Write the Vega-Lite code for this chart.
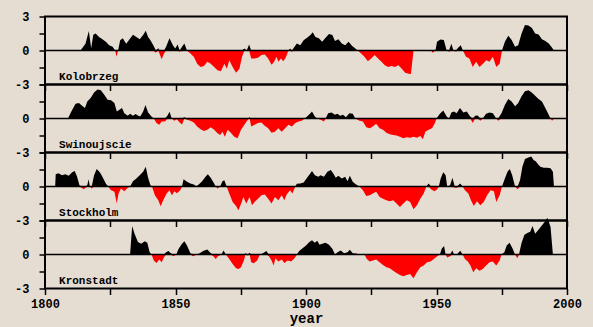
{
  "$schema": "https://vega.github.io/schema/vega-lite/v6.json",
  "background": "#e5ddd2",
  "padding": {"left": 13, "top": 9.5, "right": 9.6, "bottom": 1},
  "bounds": "flush",
  "spacing": 0,
  "config": {
    "view": {"stroke": "black", "strokeWidth": 2},
    "axis": {"domain": false, "grid": false, "ticks": true, "tickColor": "black", "tickWidth": 1.5, "labelFont": "Liberation Mono", "labelFontWeight": "bold", "labelFontSize": 12, "labelColor": "black", "titleFont": "Liberation Mono", "titleFontWeight": "bold", "titleFontSize": 14, "titleColor": "black", "labelFlush": false, "labelOverlap": false},
    "axisLeft": {"tickSize": 6, "labelPadding": 10, "labelAlign": "right", "labelBaseline": "middle"},
    "axisBottom": {"tickSize": 6}
  },
  "datasets": {
    "Kolobrzeg": [
      {"year":1813.6,"anomaly":0},{"year":1815.5,"anomaly":0.6},{"year":1816.8,"anomaly":1.72},{"year":1817.7,"anomaly":0.2},{"year":1818.5,"anomaly":1.4},{"year":1819.4,"anomaly":1.5},{"year":1820.7,"anomaly":1.2},{"year":1822.0,"anomaly":1.0},{"year":1823.3,"anomaly":0.77},{"year":1824.6,"anomaly":0.47},{"year":1825.9,"anomaly":0.33},{"year":1826.9,"anomaly":0},{"year":1827.4,"anomaly":-0.56},{"year":1828.0,"anomaly":0},{"year":1828.8,"anomaly":0.9},{"year":1829.8,"anomaly":1.07},{"year":1831.1,"anomaly":0.6},{"year":1832.4,"anomaly":1.0},{"year":1833.7,"anomaly":1.4},{"year":1835.0,"anomaly":1.2},{"year":1836.3,"anomaly":1.0},{"year":1837.6,"anomaly":1.37},{"year":1838.6,"anomaly":1.75},{"year":1839.5,"anomaly":1.2},{"year":1840.4,"anomaly":0.9},{"year":1841.5,"anomaly":0.47},{"year":1842.5,"anomaly":-0.2},{"year":1843.4,"anomaly":0.2},{"year":1844.0,"anomaly":-0.35},{"year":1844.7,"anomaly":-0.77},{"year":1845.6,"anomaly":-0.27},{"year":1846.4,"anomaly":0.33},{"year":1847.7,"anomaly":1.07},{"year":1849.0,"anomaly":0.47},{"year":1849.9,"anomaly":0.18},{"year":1850.8,"anomaly":0.53},{"year":1851.6,"anomaly":-0.1},{"year":1852.5,"anomaly":0.33},{"year":1853.4,"anomaly":0.62},{"year":1854.4,"anomaly":0},{"year":1855.7,"anomaly":-0.27},{"year":1857.0,"anomaly":-0.56},{"year":1858.3,"anomaly":-1.16},{"year":1859.6,"anomaly":-1.45},{"year":1860.9,"anomaly":-1.36},{"year":1862.2,"anomaly":-1.0},{"year":1863.5,"anomaly":-1.16},{"year":1864.8,"anomaly":-1.45},{"year":1866.1,"anomaly":-1.75},{"year":1867.4,"anomaly":-1.84},{"year":1868.7,"anomaly":-1.16},{"year":1869.7,"anomaly":-1.6},{"year":1870.6,"anomaly":-0.86},{"year":1871.9,"anomaly":-1.45},{"year":1873.2,"anomaly":-1.96},{"year":1874.5,"anomaly":-1.6},{"year":1875.5,"anomaly":-0.56},{"year":1876.4,"anomaly":0.18},{"year":1877.3,"anomaly":-0.06},{"year":1878.2,"anomaly":0.53},{"year":1879.0,"anomaly":-0.7},{"year":1880.3,"anomaly":-0.7},{"year":1881.6,"anomaly":-0.65},{"year":1882.9,"anomaly":-0.4},{"year":1884.2,"anomaly":-0.35},{"year":1885.5,"anomaly":-0.7},{"year":1886.8,"anomaly":-1.25},{"year":1887.8,"anomaly":-1.0},{"year":1888.7,"anomaly":-0.56},{"year":1889.4,"anomaly":-1.0},{"year":1890.4,"anomaly":-0.7},{"year":1891.3,"anomaly":-0.95},{"year":1892.2,"anomaly":-0.65},{"year":1893.3,"anomaly":0},{"year":1893.9,"anomaly":0.18},{"year":1894.6,"anomaly":-0.1},{"year":1895.6,"anomaly":0.33},{"year":1896.5,"anomaly":0.62},{"year":1897.8,"anomaly":0.47},{"year":1899.1,"anomaly":0.9},{"year":1900.4,"anomaly":1.13},{"year":1901.7,"anomaly":1.37},{"year":1902.6,"anomaly":1.6},{"year":1903.6,"anomaly":1.2},{"year":1904.9,"anomaly":1.07},{"year":1906.2,"anomaly":0.77},{"year":1907.5,"anomaly":1.13},{"year":1908.8,"anomaly":1.45},{"year":1910.1,"anomaly":1.37},{"year":1911.1,"anomaly":0.83},{"year":1912.4,"anomaly":1.0},{"year":1913.7,"anomaly":0.62},{"year":1915.0,"anomaly":0.47},{"year":1916.3,"anomaly":0.77},{"year":1917.6,"anomaly":0.42},{"year":1918.9,"anomaly":0.18},{"year":1919.8,"anomaly":0},{"year":1921.1,"anomaly":-0.27},{"year":1922.4,"anomaly":-0.56},{"year":1923.7,"anomaly":-0.95},{"year":1925.0,"anomaly":-0.7},{"year":1926.3,"anomaly":-0.4},{"year":1927.6,"anomaly":-0.7},{"year":1928.9,"anomaly":-1.0},{"year":1930.2,"anomaly":-1.3},{"year":1931.5,"anomaly":-1.45},{"year":1932.8,"anomaly":-1.36},{"year":1934.1,"anomaly":-1.45},{"year":1935.4,"anomaly":-1.3},{"year":1936.7,"anomaly":-1.6},{"year":1938.0,"anomaly":-1.96},{"year":1939.3,"anomaly":-2.05},{"year":1940.2,"anomaly":-2.08},{"year":1941.2,"anomaly":0},{"year":1948.0,"anomaly":0},{"year":1948.5,"anomaly":-0.2},{"year":1949.6,"anomaly":0},{"year":1950.2,"anomaly":0.77},{"year":1951.5,"anomaly":0.98},{"year":1952.8,"anomaly":0.92},{"year":1953.9,"anomaly":0},{"year":1954.8,"anomaly":-0.1},{"year":1955.7,"anomaly":0.6},{"year":1956.5,"anomaly":0},{"year":1957.4,"anomaly":-0.1},{"year":1958.3,"anomaly":0.24},{"year":1959.3,"anomaly":0.47},{"year":1960.1,"anomaly":0},{"year":1961.3,"anomaly":-0.56},{"year":1962.6,"anomaly":-0.7},{"year":1963.9,"anomaly":-1.45},{"year":1965.2,"anomaly":-1.0},{"year":1966.5,"anomaly":-1.45},{"year":1967.8,"anomaly":-1.16},{"year":1969.1,"anomaly":-0.86},{"year":1970.3,"anomaly":-1.0},{"year":1971.6,"anomaly":-0.56},{"year":1972.9,"anomaly":-1.45},{"year":1974.2,"anomaly":-1.16},{"year":1975.1,"anomaly":0},{"year":1976.2,"anomaly":0.77},{"year":1977.5,"anomaly":1.3},{"year":1978.8,"anomaly":0.92},{"year":1980.1,"anomaly":0.33},{"year":1981.3,"anomaly":0.47},{"year":1982.6,"anomaly":1.5},{"year":1983.9,"anomaly":2.25},{"year":1985.2,"anomaly":2.2},{"year":1986.5,"anomaly":2.0},{"year":1987.8,"anomaly":1.5},{"year":1989.1,"anomaly":1.42},{"year":1990.4,"anomaly":1.0},{"year":1991.7,"anomaly":0.83},{"year":1993.0,"anomaly":0.62},{"year":1994.3,"anomaly":0.24},{"year":1995.0,"anomaly":0}
    ],
    "Swinoujscie": [
      {"year":1808.8,"anomaly":0},{"year":1810.1,"anomaly":0.62},{"year":1811.7,"anomaly":1.3},{"year":1813.0,"anomaly":1.37},{"year":1814.2,"anomaly":1.13},{"year":1815.3,"anomaly":0.92},{"year":1816.2,"anomaly":1.5},{"year":1817.5,"anomaly":1.8},{"year":1818.8,"anomaly":2.3},{"year":1820.1,"anomaly":2.55},{"year":1821.4,"anomaly":2.5},{"year":1822.7,"anomaly":2.1},{"year":1824.0,"anomaly":1.66},{"year":1825.3,"anomaly":1.6},{"year":1826.6,"anomaly":1.37},{"year":1827.5,"anomaly":0.62},{"year":1828.5,"anomaly":0.77},{"year":1829.5,"anomaly":0.92},{"year":1830.4,"anomaly":0.47},{"year":1831.7,"anomaly":0.24},{"year":1832.6,"anomaly":0.42},{"year":1833.7,"anomaly":0.24},{"year":1834.7,"anomaly":0.39},{"year":1835.6,"anomaly":0.27},{"year":1836.5,"anomaly":0.18},{"year":1837.6,"anomaly":0.62},{"year":1838.5,"anomaly":1.2},{"year":1839.5,"anomaly":0.53},{"year":1840.8,"anomaly":0.18},{"year":1841.7,"anomaly":0},{"year":1842.7,"anomaly":-0.4},{"year":1843.8,"anomaly":-0.56},{"year":1844.7,"anomaly":-0.27},{"year":1846.0,"anomaly":-0.27},{"year":1846.9,"anomaly":0.24},{"year":1847.7,"anomaly":0.6},{"year":1848.6,"anomaly":0},{"year":1849.5,"anomaly":-0.2},{"year":1850.5,"anomaly":-0.06},{"year":1851.6,"anomaly":-0.35},{"year":1852.5,"anomaly":-0.53},{"year":1853.4,"anomaly":0.1},{"year":1854.4,"anomaly":-0.12},{"year":1855.7,"anomaly":-0.2},{"year":1857.0,"anomaly":-0.35},{"year":1858.3,"anomaly":-0.7},{"year":1859.6,"anomaly":-0.95},{"year":1860.9,"anomaly":-1.1},{"year":1862.2,"anomaly":-1.0},{"year":1863.5,"anomaly":-0.77},{"year":1864.8,"anomaly":-1.0},{"year":1866.1,"anomaly":-1.3},{"year":1867.1,"anomaly":-1.45},{"year":1868.0,"anomaly":-1.16},{"year":1868.9,"anomaly":-1.6},{"year":1870.0,"anomaly":-1.0},{"year":1871.2,"anomaly":-1.25},{"year":1872.5,"anomaly":-1.6},{"year":1873.8,"anomaly":-1.75},{"year":1875.1,"anomaly":-1.0},{"year":1876.4,"anomaly":-0.56},{"year":1877.7,"anomaly":-0.12},{"year":1878.4,"anomaly":0.12},{"year":1879.0,"anomaly":-0.7},{"year":1880.3,"anomaly":-0.56},{"year":1881.6,"anomaly":-0.4},{"year":1882.9,"anomaly":-0.35},{"year":1884.2,"anomaly":-0.65},{"year":1885.5,"anomaly":-0.86},{"year":1886.8,"anomaly":-1.25},{"year":1888.1,"anomaly":-1.16},{"year":1889.4,"anomaly":-0.86},{"year":1890.7,"anomaly":-1.16},{"year":1892.0,"anomaly":-0.86},{"year":1893.3,"anomaly":-0.56},{"year":1894.6,"anomaly":-0.7},{"year":1895.9,"anomaly":-0.4},{"year":1897.2,"anomaly":-0.27},{"year":1898.4,"anomaly":-0.2},{"year":1899.5,"anomaly":0},{"year":1900.4,"anomaly":0.18},{"year":1901.7,"anomaly":0.47},{"year":1902.3,"anomaly":0.62},{"year":1903.4,"anomaly":0.18},{"year":1904.3,"anomaly":0},{"year":1905.6,"anomaly":-0.12},{"year":1906.9,"anomaly":-0.27},{"year":1907.5,"anomaly":0},{"year":1908.5,"anomaly":0.47},{"year":1909.8,"anomaly":0.53},{"year":1911.1,"anomaly":0.33},{"year":1912.0,"anomaly":0.42},{"year":1913.1,"anomaly":0.24},{"year":1914.2,"anomaly":0.33},{"year":1915.3,"anomaly":0.12},{"year":1916.6,"anomaly":0.47},{"year":1917.9,"anomaly":0.42},{"year":1918.9,"anomaly":0},{"year":1920.5,"anomaly":-0.2},{"year":1921.8,"anomaly":-0.27},{"year":1923.1,"anomaly":-0.77},{"year":1924.4,"anomaly":-0.86},{"year":1925.6,"anomaly":-0.7},{"year":1926.9,"anomaly":-0.47},{"year":1928.2,"anomaly":-0.86},{"year":1929.5,"anomaly":-1.0},{"year":1930.8,"anomaly":-1.25},{"year":1932.1,"anomaly":-1.4},{"year":1933.4,"anomaly":-1.45},{"year":1934.7,"anomaly":-1.5},{"year":1936.0,"anomaly":-1.6},{"year":1937.3,"anomaly":-1.75},{"year":1938.6,"anomaly":-1.66},{"year":1939.9,"anomaly":-1.7},{"year":1941.2,"anomaly":-1.6},{"year":1942.5,"anomaly":-1.7},{"year":1943.8,"anomaly":-1.55},{"year":1944.8,"anomaly":-1.84},{"year":1945.7,"anomaly":-1.16},{"year":1947.0,"anomaly":-1.0},{"year":1948.3,"anomaly":-0.86},{"year":1949.4,"anomaly":-0.4},{"year":1950.0,"anomaly":0},{"year":1951.3,"anomaly":0.42},{"year":1952.6,"anomaly":0.7},{"year":1953.9,"anomaly":0.18},{"year":1954.8,"anomaly":0},{"year":1955.7,"anomaly":0.53},{"year":1956.7,"anomaly":0.62},{"year":1957.7,"anomaly":0.47},{"year":1959.0,"anomaly":0.92},{"year":1960.3,"anomaly":0.53},{"year":1961.6,"anomaly":0.62},{"year":1962.9,"anomaly":0.18},{"year":1963.9,"anomaly":-0.4},{"year":1964.8,"anomaly":0.24},{"year":1965.8,"anomaly":0.27},{"year":1966.8,"anomaly":-0.2},{"year":1967.7,"anomaly":0},{"year":1969.0,"anomaly":0.42},{"year":1970.3,"anomaly":0.53},{"year":1971.6,"anomaly":0.47},{"year":1972.9,"anomaly":0},{"year":1973.6,"anomaly":-0.2},{"year":1974.9,"anomaly":0.47},{"year":1976.2,"anomaly":1.2},{"year":1977.5,"anomaly":1.72},{"year":1978.8,"anomaly":1.5},{"year":1980.1,"anomaly":1.07},{"year":1981.3,"anomaly":1.37},{"year":1982.6,"anomaly":1.96},{"year":1983.9,"anomaly":2.4},{"year":1985.2,"anomaly":2.5},{"year":1986.5,"anomaly":2.3},{"year":1987.8,"anomaly":2.0},{"year":1989.1,"anomaly":1.72},{"year":1990.4,"anomaly":1.5},{"year":1991.7,"anomaly":0.92},{"year":1993.0,"anomaly":0.33},{"year":1993.7,"anomaly":0},{"year":1994.3,"anomaly":-0.2},{"year":1995.0,"anomaly":0}
    ],
    "Stockholm": [
      {"year":1803.9,"anomaly":0},{"year":1804.1,"anomaly":1.07},{"year":1805.2,"anomaly":1.16},{"year":1806.5,"anomaly":1.0},{"year":1807.8,"anomaly":1.07},{"year":1809.1,"anomaly":0.95},{"year":1810.4,"anomaly":1.25},{"year":1811.4,"anomaly":1.36},{"year":1812.3,"anomaly":0.86},{"year":1813.2,"anomaly":0.12},{"year":1814.0,"anomaly":-0.12},{"year":1814.9,"anomaly":-0.24},{"year":1815.5,"anomaly":-0.12},{"year":1816.2,"anomaly":0.12},{"year":1816.7,"anomaly":0.65},{"year":1817.2,"anomaly":0},{"year":1817.9,"anomaly":-0.18},{"year":1818.8,"anomaly":1.0},{"year":1819.8,"anomaly":1.54},{"year":1821.0,"anomaly":1.25},{"year":1822.0,"anomaly":0.86},{"year":1823.3,"anomaly":0.27},{"year":1824.2,"anomaly":0},{"year":1825.3,"anomaly":-0.33},{"year":1826.6,"anomaly":-0.47},{"year":1827.5,"anomaly":-1.5},{"year":1828.2,"anomaly":-0.62},{"year":1829.1,"anomaly":-0.18},{"year":1830.4,"anomaly":-0.42},{"year":1831.7,"anomaly":-0.12},{"year":1832.6,"anomaly":0},{"year":1833.7,"anomaly":0.47},{"year":1835.0,"anomaly":0.71},{"year":1836.3,"anomaly":1.0},{"year":1837.6,"anomaly":1.3},{"year":1838.6,"anomaly":1.75},{"year":1839.5,"anomaly":0.77},{"year":1840.4,"anomaly":0.12},{"year":1841.0,"anomaly":0},{"year":1842.1,"anomaly":-0.77},{"year":1843.4,"anomaly":-1.22},{"year":1844.3,"anomaly":-1.75},{"year":1845.3,"anomaly":-1.22},{"year":1846.6,"anomaly":-0.62},{"year":1847.7,"anomaly":-0.33},{"year":1848.6,"anomaly":-0.77},{"year":1849.6,"anomaly":-0.42},{"year":1850.5,"anomaly":-0.59},{"year":1851.8,"anomaly":-0.33},{"year":1852.5,"anomaly":0},{"year":1853.1,"anomaly":0.65},{"year":1854.4,"anomaly":0.42},{"year":1855.7,"anomaly":0.27},{"year":1857.0,"anomaly":0.18},{"year":1858.0,"anomaly":0.02},{"year":1858.9,"anomaly":0.18},{"year":1860.2,"anomaly":0.47},{"year":1861.5,"anomaly":0.86},{"year":1862.4,"anomaly":1.07},{"year":1863.5,"anomaly":0.77},{"year":1864.8,"anomaly":0.27},{"year":1865.4,"anomaly":0},{"year":1866.1,"anomaly":-0.18},{"year":1867.1,"anomaly":0},{"year":1868.0,"anomaly":0.47},{"year":1868.7,"anomaly":0.56},{"year":1869.6,"anomaly":0},{"year":1870.6,"anomaly":-0.62},{"year":1871.9,"anomaly":-1.36},{"year":1873.2,"anomaly":-1.72},{"year":1874.1,"anomaly":-2.1},{"year":1875.1,"anomaly":-1.54},{"year":1876.0,"anomaly":-0.92},{"year":1877.1,"anomaly":-1.5},{"year":1878.4,"anomaly":-0.92},{"year":1879.3,"anomaly":-1.66},{"year":1880.3,"anomaly":-1.36},{"year":1881.6,"anomaly":-1.07},{"year":1882.9,"anomaly":-0.77},{"year":1884.2,"anomaly":-0.71},{"year":1885.5,"anomaly":-1.07},{"year":1886.8,"anomaly":-1.5},{"year":1888.1,"anomaly":-0.92},{"year":1889.4,"anomaly":-1.22},{"year":1890.7,"anomaly":-0.77},{"year":1891.7,"anomaly":-1.22},{"year":1892.6,"anomaly":-0.71},{"year":1893.9,"anomaly":-0.33},{"year":1894.8,"anomaly":-0.62},{"year":1895.9,"anomaly":0},{"year":1896.5,"anomaly":0.24},{"year":1897.8,"anomaly":0.27},{"year":1899.1,"anomaly":0.36},{"year":1900.4,"anomaly":0.77},{"year":1901.7,"anomaly":1.16},{"year":1902.3,"anomaly":1.36},{"year":1903.4,"anomaly":1.0},{"year":1904.7,"anomaly":0.86},{"year":1905.6,"anomaly":1.0},{"year":1906.9,"anomaly":0.86},{"year":1908.2,"anomaly":1.3},{"year":1909.5,"anomaly":1.45},{"year":1910.4,"anomaly":1.16},{"year":1911.4,"anomaly":0.77},{"year":1912.4,"anomaly":0.95},{"year":1913.7,"anomaly":0.71},{"year":1915.0,"anomaly":0.86},{"year":1915.9,"anomaly":0.47},{"year":1916.8,"anomaly":0.95},{"year":1917.9,"anomaly":0.42},{"year":1919.2,"anomaly":0.18},{"year":1920.5,"anomaly":0},{"year":1921.8,"anomaly":-0.33},{"year":1923.1,"anomaly":-0.83},{"year":1924.4,"anomaly":-0.77},{"year":1925.6,"anomaly":-0.62},{"year":1926.9,"anomaly":-0.47},{"year":1928.2,"anomaly":-0.92},{"year":1929.5,"anomaly":-1.07},{"year":1930.8,"anomaly":-1.22},{"year":1932.1,"anomaly":-1.3},{"year":1933.4,"anomaly":-1.22},{"year":1934.7,"anomaly":-1.5},{"year":1936.0,"anomaly":-1.8},{"year":1937.3,"anomaly":-1.5},{"year":1938.6,"anomaly":-1.22},{"year":1939.9,"anomaly":-1.36},{"year":1941.2,"anomaly":-2.0},{"year":1942.5,"anomaly":-1.66},{"year":1943.8,"anomaly":-1.07},{"year":1945.1,"anomaly":-0.62},{"year":1946.1,"anomaly":0},{"year":1947.0,"anomaly":0.27},{"year":1947.9,"anomaly":-0.24},{"year":1949.2,"anomaly":-0.42},{"year":1950.3,"anomaly":-0.24},{"year":1950.9,"anomaly":0},{"year":1951.6,"anomaly":0.71},{"year":1952.6,"anomaly":1.25},{"year":1953.5,"anomaly":1.0},{"year":1954.1,"anomaly":0},{"year":1955.2,"anomaly":0.12},{"year":1956.1,"anomaly":0.77},{"year":1957.0,"anomaly":-0.12},{"year":1957.8,"anomaly":-0.12},{"year":1959.1,"anomaly":0.27},{"year":1960.0,"anomaly":0},{"year":1960.9,"anomaly":-0.33},{"year":1962.2,"anomaly":-0.62},{"year":1963.2,"anomaly":-1.22},{"year":1964.3,"anomaly":-1.72},{"year":1965.5,"anomaly":-1.3},{"year":1966.8,"anomaly":-1.66},{"year":1968.1,"anomaly":-1.36},{"year":1969.4,"anomaly":-0.77},{"year":1970.7,"anomaly":-0.33},{"year":1972.0,"anomaly":-0.42},{"year":1972.9,"anomaly":-1.36},{"year":1974.2,"anomaly":-0.77},{"year":1975.1,"anomaly":0},{"year":1976.2,"anomaly":0.71},{"year":1977.2,"anomaly":1.3},{"year":1978.1,"anomaly":1.54},{"year":1979.0,"anomaly":1.0},{"year":1980.1,"anomaly":0},{"year":1981.1,"anomaly":-0.24},{"year":1982.0,"anomaly":0.56},{"year":1982.9,"anomaly":1.75},{"year":1983.9,"anomaly":2.43},{"year":1985.2,"anomaly":2.55},{"year":1986.3,"anomaly":2.64},{"year":1987.2,"anomaly":2.34},{"year":1988.1,"anomaly":2.2},{"year":1988.9,"anomaly":1.96},{"year":1989.8,"anomaly":1.75},{"year":1991.1,"anomaly":1.66},{"year":1992.4,"anomaly":1.66},{"year":1993.7,"anomaly":1.6},{"year":1994.6,"anomaly":1.3},{"year":1995.0,"anomaly":0}
    ],
    "Kronstadt": [
      {"year":1832.6,"anomaly":0},{"year":1833.4,"anomaly":2.52},{"year":1834.3,"anomaly":1.84},{"year":1835.6,"anomaly":1.1},{"year":1836.9,"anomaly":0.95},{"year":1838.2,"anomaly":1.16},{"year":1839.2,"anomaly":1.04},{"year":1840.1,"anomaly":0.2},{"year":1840.8,"anomaly":0},{"year":1841.7,"anomaly":-0.53},{"year":1842.7,"anomaly":-0.74},{"year":1843.8,"anomaly":-0.45},{"year":1844.7,"anomaly":-0.68},{"year":1845.6,"anomaly":-0.24},{"year":1846.4,"anomaly":0.2},{"year":1847.3,"anomaly":0.3},{"year":1848.2,"anomaly":0.1},{"year":1849.2,"anomaly":-0.15},{"year":1850.3,"anomaly":0},{"year":1851.2,"anomaly":0.5},{"year":1852.5,"anomaly":0.95},{"year":1853.4,"anomaly":1.16},{"year":1854.4,"anomaly":0.8},{"year":1855.7,"anomaly":0.1},{"year":1856.7,"anomaly":-0.15},{"year":1858.0,"anomaly":-0.03},{"year":1859.3,"anomaly":0.12},{"year":1860.6,"anomaly":0.3},{"year":1862.2,"anomaly":0.45},{"year":1863.5,"anomaly":0.12},{"year":1864.5,"anomaly":-0.15},{"year":1865.4,"anomaly":-0.39},{"year":1866.3,"anomaly":-0.15},{"year":1867.6,"anomaly":0},{"year":1868.4,"anomaly":0.36},{"year":1869.3,"anomaly":0},{"year":1870.6,"anomaly":-0.39},{"year":1871.9,"anomaly":-0.83},{"year":1873.2,"anomaly":-1.22},{"year":1874.2,"anomaly":-1.28},{"year":1875.1,"anomaly":-1.13},{"year":1876.2,"anomaly":-0.53},{"year":1876.8,"anomaly":0.1},{"year":1877.7,"anomaly":-0.09},{"year":1878.4,"anomaly":0.15},{"year":1879.0,"anomaly":-0.68},{"year":1880.0,"anomaly":-0.77},{"year":1881.3,"anomaly":-0.53},{"year":1882.3,"anomaly":-0.03},{"year":1883.5,"anomaly":0.12},{"year":1884.8,"anomaly":0.3},{"year":1885.8,"anomaly":-0.15},{"year":1886.8,"anomaly":-0.53},{"year":1887.6,"anomaly":-0.98},{"year":1888.3,"anomaly":-0.33},{"year":1889.4,"anomaly":-0.62},{"year":1890.7,"anomaly":-0.45},{"year":1891.7,"anomaly":-0.74},{"year":1893.0,"anomaly":-0.53},{"year":1894.3,"anomaly":-0.62},{"year":1895.6,"anomaly":-0.33},{"year":1896.5,"anomaly":-0.03},{"year":1897.4,"anomaly":0.3},{"year":1898.7,"anomaly":0.56},{"year":1900.0,"anomaly":0.8},{"year":1901.3,"anomaly":1.1},{"year":1902.3,"anomaly":1.25},{"year":1903.4,"anomaly":1.04},{"year":1904.3,"anomaly":1.22},{"year":1905.2,"anomaly":0.86},{"year":1906.2,"anomaly":0.95},{"year":1907.5,"anomaly":1.04},{"year":1908.8,"anomaly":0.86},{"year":1910.1,"anomaly":0.5},{"year":1911.1,"anomaly":0},{"year":1912.1,"anomaly":0.2},{"year":1913.3,"anomaly":0.36},{"year":1914.6,"anomaly":0.12},{"year":1915.9,"anomaly":0.2},{"year":1916.8,"anomaly":0.42},{"year":1917.9,"anomaly":0.12},{"year":1919.2,"anomaly":0.09},{"year":1920.5,"anomaly":0},{"year":1921.5,"anomaly":0.03},{"year":1922.4,"anomaly":0},{"year":1923.3,"anomaly":-0.39},{"year":1924.4,"anomaly":-0.62},{"year":1925.6,"anomaly":-0.53},{"year":1926.9,"anomaly":-0.45},{"year":1928.2,"anomaly":-0.68},{"year":1929.5,"anomaly":-0.92},{"year":1930.8,"anomaly":-1.13},{"year":1932.1,"anomaly":-1.22},{"year":1933.4,"anomaly":-1.43},{"year":1934.7,"anomaly":-1.63},{"year":1936.0,"anomaly":-1.81},{"year":1937.3,"anomaly":-1.93},{"year":1938.6,"anomaly":-1.81},{"year":1939.9,"anomaly":-1.72},{"year":1941.2,"anomaly":-2.1},{"year":1942.5,"anomaly":-1.57},{"year":1943.8,"anomaly":-1.13},{"year":1945.1,"anomaly":-0.98},{"year":1946.4,"anomaly":-0.68},{"year":1947.7,"anomaly":-0.62},{"year":1949.0,"anomaly":-0.39},{"year":1950.3,"anomaly":-0.15},{"year":1951.3,"anomaly":0},{"year":1952.0,"anomaly":0.5},{"year":1952.9,"anomaly":0.74},{"year":1953.5,"anomaly":0},{"year":1954.1,"anomaly":-0.27},{"year":1955.2,"anomaly":-0.15},{"year":1956.1,"anomaly":0.36},{"year":1956.7,"anomaly":0},{"year":1957.8,"anomaly":-0.03},{"year":1959.1,"anomaly":0.33},{"year":1960.0,"anomaly":0},{"year":1960.9,"anomaly":-0.39},{"year":1962.0,"anomaly":-0.62},{"year":1963.0,"anomaly":-0.98},{"year":1964.1,"anomaly":-1.57},{"year":1965.2,"anomaly":-1.22},{"year":1966.5,"anomaly":-1.43},{"year":1967.7,"anomaly":-1.28},{"year":1969.0,"anomaly":-0.98},{"year":1970.3,"anomaly":-0.68},{"year":1971.6,"anomaly":-0.62},{"year":1972.9,"anomaly":-0.98},{"year":1974.2,"anomaly":-0.53},{"year":1974.9,"anomaly":0},{"year":1976.0,"anomaly":0.2},{"year":1976.9,"anomaly":0.8},{"year":1978.0,"anomaly":1.04},{"year":1979.1,"anomaly":0.56},{"year":1980.1,"anomaly":0},{"year":1981.0,"anomaly":-0.33},{"year":1981.6,"anomaly":0},{"year":1982.6,"anomaly":1.04},{"year":1983.7,"anomaly":1.75},{"year":1985.0,"anomaly":1.93},{"year":1985.9,"anomaly":2.0},{"year":1986.8,"anomaly":2.52},{"year":1987.8,"anomaly":1.84},{"year":1988.9,"anomaly":2.14},{"year":1990.2,"anomaly":2.52},{"year":1991.5,"anomaly":2.88},{"year":1992.5,"anomaly":3.25},{"year":1993.7,"anomaly":2.43},{"year":1994.6,"anomaly":0}
    ]
  },
  "vconcat": [
    {
      "width": 522, "height": 68,
      "layer": [
        {"data": {"name": "Kolobrzeg"}, "mark": {"type": "area", "color": "black"},
         "encoding": {
           "x": {"field": "year", "type": "quantitative", "scale": {"domain": [1800, 2000], "nice": false, "zero": false}, "axis": {"values": [1800,1825,1850,1875,1900,1925,1950,1975,2000], "labels": false, "tickSize": 6, "title": null}},
           "y": {"field": "anomaly", "type": "quantitative", "scale": {"domain": [0, 4], "range": [34, -11.333], "clamp": true, "nice": false, "zero": false}, "axis": null},
           "y2": {"datum": 0}}},
        {"data": {"name": "Kolobrzeg"}, "mark": {"type": "area", "color": "#ff0000"},
         "encoding": {
           "x": {"field": "year", "type": "quantitative"},
           "y": {"field": "anomaly", "type": "quantitative", "scale": {"domain": [-4, 0], "range": [79.333, 34], "clamp": true, "nice": false, "zero": false}, "axis": null},
           "y2": {"datum": 0}}},
        {"data": {"values": [{}]}, "mark": {"type": "rule", "color": "black", "strokeWidth": 1.3},
         "encoding": {"y": {"datum": 0, "type": "quantitative", "scale": {"domain": [-3, 3], "nice": false}, "axis": {"orient": "left", "values": [3, 1.5, 0, -1.5, -3], "labelExpr": "datum.value == 3 ? '3' : datum.value == 0 ? '0' : datum.value == -3 ? '-3' : ''", "ticks": true, "tickSize": 6, "labelPadding": 10, "labelAlign": "right", "title": null}}}},
        {"data": {"values": [{}]}, "mark": {"type": "text", "align": "left", "baseline": "alphabetic", "font": "Liberation Mono", "fontWeight": "bold", "fontSize": 11, "color": "black"},
         "encoding": {"x": {"datum": 1805.4, "type": "quantitative"}, "y": {"datum": -2.6, "type": "quantitative", "scale": {"domain": [-3, 3], "nice": false}, "axis": null}, "text": {"value": "Kolobrzeg"}}}
      ],
      "resolve": {"scale": {"y": "independent"}}
    },
    {
      "width": 522, "height": 68,
      "layer": [
        {"data": {"name": "Swinoujscie"}, "mark": {"type": "area", "color": "black"},
         "encoding": {
           "x": {"field": "year", "type": "quantitative", "scale": {"domain": [1800, 2000], "nice": false, "zero": false}, "axis": {"values": [1800,1825,1850,1875,1900,1925,1950,1975,2000], "labels": false, "tickSize": 6, "title": null}},
           "y": {"field": "anomaly", "type": "quantitative", "scale": {"domain": [0, 4], "range": [34, -11.333], "clamp": true, "nice": false, "zero": false}, "axis": null},
           "y2": {"datum": 0}}},
        {"data": {"name": "Swinoujscie"}, "mark": {"type": "area", "color": "#ff0000"},
         "encoding": {
           "x": {"field": "year", "type": "quantitative"},
           "y": {"field": "anomaly", "type": "quantitative", "scale": {"domain": [-4, 0], "range": [79.333, 34], "clamp": true, "nice": false, "zero": false}, "axis": null},
           "y2": {"datum": 0}}},
        {"data": {"values": [{}]}, "mark": {"type": "rule", "color": "black", "strokeWidth": 1.3},
         "encoding": {"y": {"datum": 0, "type": "quantitative", "scale": {"domain": [-3, 3], "nice": false}, "axis": {"orient": "left", "values": [3, 1.5, 0, -1.5, -3], "labelExpr": "datum.value == 0 ? '0' : datum.value == -3 ? '-3' : ''", "ticks": true, "tickSize": 6, "labelPadding": 10, "labelAlign": "right", "title": null}}}},
        {"data": {"values": [{}]}, "mark": {"type": "text", "align": "left", "baseline": "alphabetic", "font": "Liberation Mono", "fontWeight": "bold", "fontSize": 11, "color": "black"},
         "encoding": {"x": {"datum": 1805.4, "type": "quantitative"}, "y": {"datum": -2.6, "type": "quantitative", "scale": {"domain": [-3, 3], "nice": false}, "axis": null}, "text": {"value": "Swinoujscie"}}}
      ],
      "resolve": {"scale": {"y": "independent"}}
    },
    {
      "width": 522, "height": 68,
      "layer": [
        {"data": {"name": "Stockholm"}, "mark": {"type": "area", "color": "black"},
         "encoding": {
           "x": {"field": "year", "type": "quantitative", "scale": {"domain": [1800, 2000], "nice": false, "zero": false}, "axis": {"values": [1800,1825,1850,1875,1900,1925,1950,1975,2000], "labels": false, "tickSize": 6, "title": null}},
           "y": {"field": "anomaly", "type": "quantitative", "scale": {"domain": [0, 4], "range": [34, -11.333], "clamp": true, "nice": false, "zero": false}, "axis": null},
           "y2": {"datum": 0}}},
        {"data": {"name": "Stockholm"}, "mark": {"type": "area", "color": "#ff0000"},
         "encoding": {
           "x": {"field": "year", "type": "quantitative"},
           "y": {"field": "anomaly", "type": "quantitative", "scale": {"domain": [-4, 0], "range": [79.333, 34], "clamp": true, "nice": false, "zero": false}, "axis": null},
           "y2": {"datum": 0}}},
        {"data": {"values": [{}]}, "mark": {"type": "rule", "color": "black", "strokeWidth": 1.3},
         "encoding": {"y": {"datum": 0, "type": "quantitative", "scale": {"domain": [-3, 3], "nice": false}, "axis": {"orient": "left", "values": [3, 1.5, 0, -1.5, -3], "labelExpr": "datum.value == 0 ? '0' : datum.value == -3 ? '-3' : ''", "ticks": true, "tickSize": 6, "labelPadding": 10, "labelAlign": "right", "title": null}}}},
        {"data": {"values": [{}]}, "mark": {"type": "text", "align": "left", "baseline": "alphabetic", "font": "Liberation Mono", "fontWeight": "bold", "fontSize": 11, "color": "black"},
         "encoding": {"x": {"datum": 1805.4, "type": "quantitative"}, "y": {"datum": -2.6, "type": "quantitative", "scale": {"domain": [-3, 3], "nice": false}, "axis": null}, "text": {"value": "Stockholm"}}}
      ],
      "resolve": {"scale": {"y": "independent"}}
    },
    {
      "width": 522, "height": 68,
      "layer": [
        {"data": {"name": "Kronstadt"}, "mark": {"type": "area", "color": "black"},
         "encoding": {
           "x": {"field": "year", "type": "quantitative", "scale": {"domain": [1800, 2000], "nice": false, "zero": false}, "axis": {"values": [1800,1825,1850,1875,1900,1925,1950,1975,2000], "labelExpr": "datum.value % 50 == 0 ? datum.label : ''", "format": "d", "tickSize": 6, "labelPadding": 4, "labelDx": 4, "title": "year", "titlePadding": 2}},
           "y": {"field": "anomaly", "type": "quantitative", "scale": {"domain": [0, 4], "range": [34, -11.333], "clamp": true, "nice": false, "zero": false}, "axis": null},
           "y2": {"datum": 0}}},
        {"data": {"name": "Kronstadt"}, "mark": {"type": "area", "color": "#ff0000"},
         "encoding": {
           "x": {"field": "year", "type": "quantitative"},
           "y": {"field": "anomaly", "type": "quantitative", "scale": {"domain": [-4, 0], "range": [79.333, 34], "clamp": true, "nice": false, "zero": false}, "axis": null},
           "y2": {"datum": 0}}},
        {"data": {"values": [{}]}, "mark": {"type": "rule", "color": "black", "strokeWidth": 1.3},
         "encoding": {"y": {"datum": 0, "type": "quantitative", "scale": {"domain": [-3, 3], "nice": false}, "axis": {"orient": "left", "values": [3, 1.5, 0, -1.5, -3], "labelExpr": "datum.value == 0 ? '0' : datum.value == -3 ? '-3' : ''", "ticks": true, "tickSize": 6, "labelPadding": 10, "labelAlign": "right", "title": null}}}},
        {"data": {"values": [{}]}, "mark": {"type": "text", "align": "left", "baseline": "alphabetic", "font": "Liberation Mono", "fontWeight": "bold", "fontSize": 11, "color": "black"},
         "encoding": {"x": {"datum": 1805.4, "type": "quantitative"}, "y": {"datum": -2.6, "type": "quantitative", "scale": {"domain": [-3, 3], "nice": false}, "axis": null}, "text": {"value": "Kronstadt"}}}
      ],
      "resolve": {"scale": {"y": "independent"}}
    }
  ]
}
